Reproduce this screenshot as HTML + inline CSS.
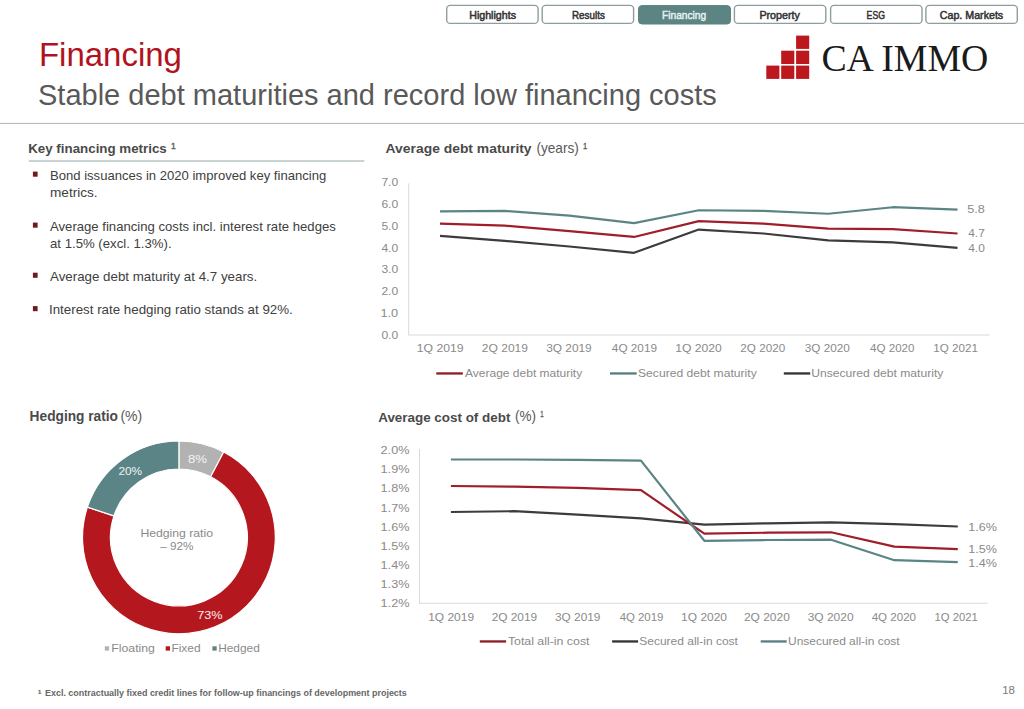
<!DOCTYPE html>
<html><head><meta charset="utf-8"><title>Financing</title>
<style>
html,body{margin:0;padding:0;background:#fff;}
body{width:1024px;height:709px;overflow:hidden;font-family:"Liberation Sans",sans-serif;}
svg{display:block;}
text{font-family:"Liberation Sans",sans-serif;}
</style></head><body>
<svg width="1024" height="709" viewBox="0 0 1024 709">
<rect width="1024" height="709" fill="#fff"/>
<rect x="446.70" y="5.4" width="91.4" height="18" rx="3.5" fill="#fff" stroke="#8e9d9d" stroke-width="1.4"/>
<rect x="542.20" y="5.4" width="91.4" height="18" rx="3.5" fill="#fff" stroke="#8e9d9d" stroke-width="1.4"/>
<rect x="638.50" y="5.6" width="92" height="18.4" rx="3.5" fill="#5b8483" stroke="#5b8483" stroke-width="1.0"/>
<rect x="734.40" y="5.4" width="91.4" height="18" rx="3.5" fill="#fff" stroke="#8e9d9d" stroke-width="1.4"/>
<rect x="830.60" y="5.4" width="91.4" height="18" rx="3.5" fill="#fff" stroke="#8e9d9d" stroke-width="1.4"/>
<rect x="925.90" y="5.4" width="91.4" height="18" rx="3.5" fill="#fff" stroke="#8e9d9d" stroke-width="1.4"/>
<rect x="0" y="122.9" width="1024" height="1" fill="#b4b4b4"/>
<rect x="766.30" y="65.60" width="13.1" height="13.3" fill="#bb171d"/>
<rect x="781.20" y="65.60" width="13.1" height="13.3" fill="#bb171d"/>
<rect x="796.10" y="65.60" width="13.1" height="13.3" fill="#bb171d"/>
<rect x="781.20" y="50.70" width="13.1" height="13.3" fill="#bb171d"/>
<rect x="796.10" y="50.70" width="13.1" height="13.3" fill="#bb171d"/>
<rect x="796.10" y="35.60" width="13.1" height="13.3" fill="#bb171d"/>
<rect x="28.8" y="160.3" width="335.5" height="1.4" fill="#b3c1c2"/>
<rect x="32.9" y="171.60" width="4.7" height="5.1" fill="#6e1a1e"/>
<rect x="32.9" y="222.60" width="4.7" height="5.1" fill="#6e1a1e"/>
<rect x="32.9" y="272.70" width="4.7" height="5.1" fill="#6e1a1e"/>
<rect x="32.9" y="306.10" width="4.7" height="5.1" fill="#6e1a1e"/>
<rect x="408.2" y="183.4" width="1" height="151.6" fill="#d9d9d9"/>
<rect x="408.2" y="334.5" width="581.3" height="1" fill="#d9d9d9"/>
<polyline points="440.00,211.34 504.69,210.91 569.38,215.68 634.07,223.06 698.76,210.26 763.45,210.91 828.14,213.73 892.83,207.22 957.52,209.61" fill="none" stroke="#5b8485" stroke-width="2.2" stroke-linejoin="round" stroke-linecap="butt"/>
<polyline points="440.00,223.71 504.69,225.67 569.38,231.09 634.07,236.95 698.76,221.11 763.45,223.71 828.14,228.70 892.83,229.14 957.52,233.48" fill="none" stroke="#a01e2a" stroke-width="2.2" stroke-linejoin="round" stroke-linecap="butt"/>
<polyline points="440.00,235.87 504.69,240.86 569.38,246.50 634.07,252.79 698.76,229.57 763.45,233.48 828.14,240.42 892.83,242.38 957.52,247.80" fill="none" stroke="#3c3c3c" stroke-width="2.2" stroke-linejoin="round" stroke-linecap="butt"/>
<rect x="436.3" y="372.3" width="26.50" height="2.3" fill="#8c1d25"/>
<rect x="610.0" y="372.3" width="26.70" height="2.3" fill="#557f80"/>
<rect x="783.8" y="372.3" width="26.40" height="2.3" fill="#333333"/>
<path d="M178.90,441.00 A96.4,96.4 0 0 1 223.71,452.05 L210.70,476.84 A68.4,68.4 0 0 0 178.90,469.00 Z" fill="#b2b2b2" stroke="#fff" stroke-width="1.2"/>
<path d="M223.71,452.05 A96.4,96.4 0 1 1 87.38,507.13 L113.96,515.92 A68.4,68.4 0 1 0 210.70,476.84 Z" fill="#b5171e" stroke="#fff" stroke-width="1.2"/>
<path d="M87.38,507.13 A96.4,96.4 0 0 1 178.90,441.00 L178.90,469.00 A68.4,68.4 0 0 0 113.96,515.92 Z" fill="#5b8486" stroke="#fff" stroke-width="1.2"/>
<rect x="104.8" y="646.3" width="4.3" height="4.3" fill="#b2b2b2"/>
<rect x="165.7" y="646.3" width="4.3" height="4.3" fill="#b5171e"/>
<rect x="212.4" y="646.3" width="4.3" height="4.3" fill="#5b8486"/>
<rect x="419" y="449.1" width="1" height="154" fill="#d9d9d9"/>
<rect x="419" y="602.8" width="568.6" height="1" fill="#d9d9d9"/>
<polyline points="450.90,512.00 514.26,511.20 577.62,514.70 640.98,518.30 704.34,524.70 767.70,523.30 831.06,522.40 894.42,524.10 957.78,526.50" fill="none" stroke="#3c3c3c" stroke-width="2.2" stroke-linejoin="round" stroke-linecap="butt"/>
<polyline points="450.90,486.00 514.26,486.60 577.62,487.90 640.98,490.20 704.34,533.70 767.70,532.70 831.06,532.30 894.42,546.60 957.78,549.10" fill="none" stroke="#a01e2a" stroke-width="2.2" stroke-linejoin="round" stroke-linecap="butt"/>
<polyline points="450.90,459.50 514.26,459.50 577.62,459.80 640.98,460.60 704.34,540.80 767.70,540.00 831.06,539.70 894.42,560.20 957.78,562.20" fill="none" stroke="#5b8485" stroke-width="2.2" stroke-linejoin="round" stroke-linecap="butt"/>
<rect x="479.8" y="640.3" width="26.30" height="2.3" fill="#8c1d25"/>
<rect x="612.1" y="640.3" width="26.00" height="2.3" fill="#333333"/>
<rect x="760.7" y="640.3" width="26.00" height="2.3" fill="#557f80"/>
<text x="469.20" y="18.50" font-size="10.5" fill="#333333" stroke="#333333" stroke-width="0.5" textLength="46.80" lengthAdjust="spacingAndGlyphs">Highlights</text>
<text x="572.00" y="18.50" font-size="10.5" fill="#333333" stroke="#333333" stroke-width="0.5" textLength="32.80" lengthAdjust="spacingAndGlyphs">Results</text>
<text x="662.00" y="18.70" font-size="10.6" fill="#e6f0f0" stroke="#e6f0f0" stroke-width="0.45" textLength="44.20" lengthAdjust="spacingAndGlyphs">Financing</text>
<text x="759.40" y="18.50" font-size="10.5" fill="#333333" stroke="#333333" stroke-width="0.5" textLength="40.40" lengthAdjust="spacingAndGlyphs">Property</text>
<text x="866.60" y="18.50" font-size="10.5" fill="#333333" stroke="#333333" stroke-width="0.5" textLength="18.40" lengthAdjust="spacingAndGlyphs">ESG</text>
<text x="939.80" y="18.50" font-size="10.5" fill="#333333" stroke="#333333" stroke-width="0.5" textLength="63.40" lengthAdjust="spacingAndGlyphs">Cap. Markets</text>
<text x="38.90" y="65.90" font-size="32.9" fill="#b0131d" textLength="143.10" lengthAdjust="spacingAndGlyphs">Financing</text>
<text x="38.00" y="104.90" font-size="28.7" fill="#595959" textLength="678.80" lengthAdjust="spacingAndGlyphs">Stable debt maturities and record low financing costs</text>
<text x="821.40" y="71.40" font-size="38.6" fill="#1a1a1a" textLength="167.00" lengthAdjust="spacingAndGlyphs" style="font-family:'Liberation Serif',serif">CA IMMO</text>
<text x="28.20" y="153.00" font-size="13.0" fill="#4a4a4a" font-weight="700" textLength="138.60" lengthAdjust="spacingAndGlyphs">Key financing metrics</text>
<text x="171.00" y="148.70" font-size="9.5" fill="#595959" stroke="#595959" stroke-width="0.35" textLength="4.80" lengthAdjust="spacingAndGlyphs">1</text>
<text x="50.00" y="179.80" font-size="12.9" fill="#404040" textLength="276.20" lengthAdjust="spacingAndGlyphs">Bond issuances in 2020 improved key financing</text>
<text x="50.00" y="197.40" font-size="12.9" fill="#404040" textLength="47.60" lengthAdjust="spacingAndGlyphs">metrics.</text>
<text x="50.00" y="230.80" font-size="12.9" fill="#404040" textLength="285.80" lengthAdjust="spacingAndGlyphs">Average financing costs incl. interest rate hedges</text>
<text x="50.00" y="248.00" font-size="12.9" fill="#404040" textLength="121.60" lengthAdjust="spacingAndGlyphs">at 1.5% (excl. 1.3%).</text>
<text x="50.00" y="280.90" font-size="12.9" fill="#404040" textLength="207.20" lengthAdjust="spacingAndGlyphs">Average debt maturity at 4.7 years.</text>
<text x="49.00" y="314.30" font-size="12.9" fill="#404040" textLength="243.80" lengthAdjust="spacingAndGlyphs">Interest rate hedging ratio stands at 92%.</text>
<text x="385.60" y="152.80" font-size="13.0" fill="#4a4a4a" font-weight="700" textLength="146.00" lengthAdjust="spacingAndGlyphs">Average debt maturity</text>
<text x="536.40" y="152.80" font-size="14.3" fill="#595959" textLength="42.40" lengthAdjust="spacingAndGlyphs">(years)</text>
<text x="583.00" y="148.60" font-size="8.6" fill="#595959" stroke="#595959" stroke-width="0.3" textLength="4.20" lengthAdjust="spacingAndGlyphs">1</text>
<text x="381.40" y="186.30" font-size="10.7" fill="#8a8a8a" textLength="16.80" lengthAdjust="spacingAndGlyphs">7.0</text>
<text x="381.40" y="208.07" font-size="10.7" fill="#8a8a8a" textLength="16.80" lengthAdjust="spacingAndGlyphs">6.0</text>
<text x="381.40" y="229.84" font-size="10.7" fill="#8a8a8a" textLength="16.80" lengthAdjust="spacingAndGlyphs">5.0</text>
<text x="381.40" y="251.61" font-size="10.7" fill="#8a8a8a" textLength="16.80" lengthAdjust="spacingAndGlyphs">4.0</text>
<text x="381.40" y="273.38" font-size="10.7" fill="#8a8a8a" textLength="16.80" lengthAdjust="spacingAndGlyphs">3.0</text>
<text x="381.40" y="295.15" font-size="10.7" fill="#8a8a8a" textLength="16.80" lengthAdjust="spacingAndGlyphs">2.0</text>
<text x="380.40" y="316.92" font-size="10.7" fill="#8a8a8a" textLength="17.80" lengthAdjust="spacingAndGlyphs">1.0</text>
<text x="381.40" y="338.69" font-size="10.7" fill="#8a8a8a" textLength="16.80" lengthAdjust="spacingAndGlyphs">0.0</text>
<text x="416.70" y="352.40" font-size="10.9" fill="#8a8a8a" textLength="46.90" lengthAdjust="spacingAndGlyphs">1Q 2019</text>
<text x="481.89" y="352.40" font-size="10.9" fill="#8a8a8a" textLength="46.10" lengthAdjust="spacingAndGlyphs">2Q 2019</text>
<text x="546.18" y="352.40" font-size="10.9" fill="#8a8a8a" textLength="45.50" lengthAdjust="spacingAndGlyphs">3Q 2019</text>
<text x="611.87" y="352.40" font-size="10.9" fill="#8a8a8a" textLength="45.10" lengthAdjust="spacingAndGlyphs">4Q 2019</text>
<text x="675.26" y="352.40" font-size="10.9" fill="#8a8a8a" textLength="46.50" lengthAdjust="spacingAndGlyphs">1Q 2020</text>
<text x="740.35" y="352.40" font-size="10.9" fill="#8a8a8a" textLength="44.80" lengthAdjust="spacingAndGlyphs">2Q 2020</text>
<text x="804.84" y="352.40" font-size="10.9" fill="#8a8a8a" textLength="45.00" lengthAdjust="spacingAndGlyphs">3Q 2020</text>
<text x="870.03" y="352.40" font-size="10.9" fill="#8a8a8a" textLength="44.50" lengthAdjust="spacingAndGlyphs">4Q 2020</text>
<text x="933.32" y="352.40" font-size="10.9" fill="#8a8a8a" textLength="44.60" lengthAdjust="spacingAndGlyphs">1Q 2021</text>
<text x="967.20" y="213.30" font-size="10.9" fill="#8a8a8a" textLength="17.60" lengthAdjust="spacingAndGlyphs">5.8</text>
<text x="968.20" y="237.20" font-size="10.9" fill="#8a8a8a" textLength="16.60" lengthAdjust="spacingAndGlyphs">4.7</text>
<text x="968.20" y="251.90" font-size="10.9" fill="#8a8a8a" textLength="16.60" lengthAdjust="spacingAndGlyphs">4.0</text>
<text x="465.10" y="376.90" font-size="10.6" fill="#8a8a8a" textLength="117.10" lengthAdjust="spacingAndGlyphs">Average debt maturity</text>
<text x="638.00" y="376.90" font-size="10.6" fill="#8a8a8a" textLength="118.70" lengthAdjust="spacingAndGlyphs">Secured debt maturity</text>
<text x="811.20" y="376.90" font-size="10.6" fill="#8a8a8a" textLength="132.20" lengthAdjust="spacingAndGlyphs">Unsecured debt maturity</text>
<text x="29.60" y="421.40" font-size="13.8" fill="#4a4a4a" font-weight="700" textLength="88.40" lengthAdjust="spacingAndGlyphs">Hedging ratio</text>
<text x="120.40" y="421.00" font-size="14.2" fill="#595959" textLength="21.80" lengthAdjust="spacingAndGlyphs">(%)</text>
<text x="188.00" y="463.00" font-size="11.4" fill="#f4f4f4" textLength="19.00" lengthAdjust="spacingAndGlyphs">8%</text>
<text x="118.40" y="474.90" font-size="11.4" fill="#eef3f3" textLength="23.60" lengthAdjust="spacingAndGlyphs">20%</text>
<text x="197.20" y="618.50" font-size="11.4" fill="#f8eeee" textLength="25.40" lengthAdjust="spacingAndGlyphs">73%</text>
<text x="140.40" y="537.40" font-size="10.2" fill="#8a8a8a" textLength="72.60" lengthAdjust="spacingAndGlyphs">Hedging ratio</text>
<text x="160.20" y="550.40" font-size="10.2" fill="#8a8a8a" textLength="33.20" lengthAdjust="spacingAndGlyphs">– 92%</text>
<text x="111.20" y="652.20" font-size="10.6" fill="#8a8a8a" textLength="43.80" lengthAdjust="spacingAndGlyphs">Floating</text>
<text x="171.40" y="652.20" font-size="10.6" fill="#8a8a8a" textLength="29.20" lengthAdjust="spacingAndGlyphs">Fixed</text>
<text x="218.20" y="652.20" font-size="10.6" fill="#8a8a8a" textLength="41.60" lengthAdjust="spacingAndGlyphs">Hedged</text>
<text x="378.20" y="421.50" font-size="13.6" fill="#4a4a4a" font-weight="700" textLength="132.20" lengthAdjust="spacingAndGlyphs">Average cost of debt</text>
<text x="515.00" y="421.00" font-size="14.2" fill="#595959" textLength="21.00" lengthAdjust="spacingAndGlyphs">(%)</text>
<text x="540.20" y="416.80" font-size="9.0" fill="#595959" stroke="#595959" stroke-width="0.3" textLength="3.40" lengthAdjust="spacingAndGlyphs">1</text>
<text x="380.60" y="454.20" font-size="10.9" fill="#8a8a8a" textLength="28.80" lengthAdjust="spacingAndGlyphs">2.0%</text>
<text x="380.60" y="473.30" font-size="10.9" fill="#8a8a8a" textLength="28.80" lengthAdjust="spacingAndGlyphs">1.9%</text>
<text x="380.60" y="492.40" font-size="10.9" fill="#8a8a8a" textLength="28.80" lengthAdjust="spacingAndGlyphs">1.8%</text>
<text x="380.60" y="511.50" font-size="10.9" fill="#8a8a8a" textLength="28.80" lengthAdjust="spacingAndGlyphs">1.7%</text>
<text x="380.60" y="530.60" font-size="10.9" fill="#8a8a8a" textLength="28.80" lengthAdjust="spacingAndGlyphs">1.6%</text>
<text x="380.60" y="549.70" font-size="10.9" fill="#8a8a8a" textLength="28.80" lengthAdjust="spacingAndGlyphs">1.5%</text>
<text x="380.60" y="568.80" font-size="10.9" fill="#8a8a8a" textLength="28.80" lengthAdjust="spacingAndGlyphs">1.4%</text>
<text x="380.60" y="587.90" font-size="10.9" fill="#8a8a8a" textLength="28.80" lengthAdjust="spacingAndGlyphs">1.3%</text>
<text x="380.60" y="607.00" font-size="10.9" fill="#8a8a8a" textLength="28.80" lengthAdjust="spacingAndGlyphs">1.2%</text>
<text x="428.20" y="621.00" font-size="10.9" fill="#8a8a8a" textLength="45.90" lengthAdjust="spacingAndGlyphs">1Q 2019</text>
<text x="491.65" y="621.00" font-size="10.9" fill="#8a8a8a" textLength="45.50" lengthAdjust="spacingAndGlyphs">2Q 2019</text>
<text x="555.00" y="621.00" font-size="10.9" fill="#8a8a8a" textLength="45.40" lengthAdjust="spacingAndGlyphs">3Q 2019</text>
<text x="619.65" y="621.00" font-size="10.9" fill="#8a8a8a" textLength="43.70" lengthAdjust="spacingAndGlyphs">4Q 2019</text>
<text x="681.10" y="621.00" font-size="10.9" fill="#8a8a8a" textLength="45.90" lengthAdjust="spacingAndGlyphs">1Q 2020</text>
<text x="743.95" y="621.00" font-size="10.9" fill="#8a8a8a" textLength="45.90" lengthAdjust="spacingAndGlyphs">2Q 2020</text>
<text x="807.70" y="621.00" font-size="10.9" fill="#8a8a8a" textLength="45.90" lengthAdjust="spacingAndGlyphs">3Q 2020</text>
<text x="871.65" y="621.00" font-size="10.9" fill="#8a8a8a" textLength="44.40" lengthAdjust="spacingAndGlyphs">4Q 2020</text>
<text x="934.50" y="621.00" font-size="10.9" fill="#8a8a8a" textLength="43.40" lengthAdjust="spacingAndGlyphs">1Q 2021</text>
<text x="968.20" y="530.90" font-size="10.9" fill="#8a8a8a" textLength="28.60" lengthAdjust="spacingAndGlyphs">1.6%</text>
<text x="968.20" y="552.60" font-size="10.9" fill="#8a8a8a" textLength="28.60" lengthAdjust="spacingAndGlyphs">1.5%</text>
<text x="968.20" y="566.80" font-size="10.9" fill="#8a8a8a" textLength="28.60" lengthAdjust="spacingAndGlyphs">1.4%</text>
<text x="507.90" y="644.90" font-size="10.6" fill="#8a8a8a" textLength="81.60" lengthAdjust="spacingAndGlyphs">Total all-in cost</text>
<text x="639.30" y="644.90" font-size="10.6" fill="#8a8a8a" textLength="98.60" lengthAdjust="spacingAndGlyphs">Secured all-in cost</text>
<text x="788.00" y="644.90" font-size="10.6" fill="#8a8a8a" textLength="111.60" lengthAdjust="spacingAndGlyphs">Unsecured all-in cost</text>
<text x="37.60" y="693.60" font-size="6" fill="#666666" font-weight="700" textLength="4.20" lengthAdjust="spacingAndGlyphs">1</text>
<text x="45.00" y="695.60" font-size="8.6" fill="#666666" font-weight="700" textLength="361.80" lengthAdjust="spacingAndGlyphs">Excl. contractually fixed credit lines for follow-up financings of development projects</text>
<text x="1002.20" y="693.80" font-size="11.2" fill="#7a7a7a" textLength="12.80" lengthAdjust="spacingAndGlyphs">18</text>
</svg>
</body></html>
